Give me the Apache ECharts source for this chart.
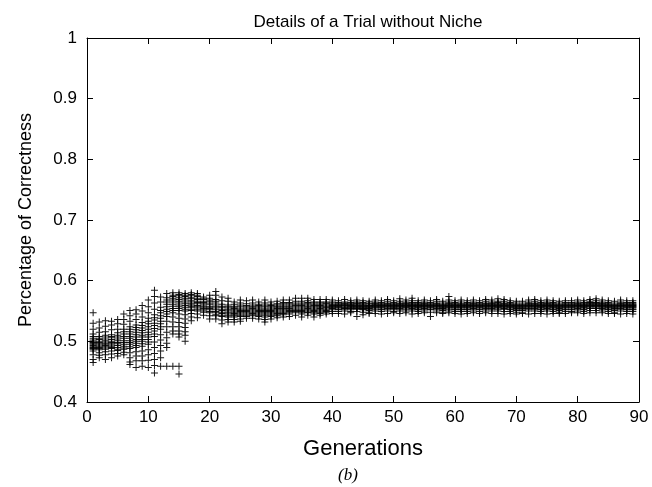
<!DOCTYPE html>
<html>
<head>
<meta charset="utf-8">
<script src="https://cdn.jsdelivr.net/npm/echarts@6/dist/echarts.min.js"></script>
<style>html,body{margin:0;padding:0;background:#fff}#c{width:652px;height:487px}</style>
</head>
<body>
<div id="c"></div>
<script>
const titleText = "Details of a Trial without Niche";
const xName = "Generations";
const yName = "Percentage of Correctness";
const caption = "(b)";
const xTicks = [0, 10, 20, 30, 40, 50, 60, 70, 80, 90];
const yTicks = [0.4, 0.5, 0.6, 0.7, 0.8, 0.9, 1];

// generation index for each row of correctness values
const generations = [];
for (let g = 1; g <= 89; g++) generations.push(g);

// correctness values of the population at each generation
const correctness = [
  [0.547, 0.53, 0.52, 0.512, 0.508, 0.505, 0.502, 0.5, 0.498, 0.497, 0.495, 0.493, 0.491, 0.49, 0.488, 0.487, 0.484, 0.478, 0.47, 0.465],
  [0.532, 0.522, 0.515, 0.508, 0.505, 0.503, 0.5, 0.498, 0.496, 0.494, 0.492, 0.49, 0.488, 0.486, 0.481, 0.477, 0.473],
  [0.534, 0.525, 0.516, 0.51, 0.507, 0.504, 0.501, 0.499, 0.497, 0.495, 0.493, 0.491, 0.489, 0.487, 0.483, 0.478, 0.47],
  [0.533, 0.527, 0.519, 0.511, 0.508, 0.506, 0.503, 0.5, 0.498, 0.496, 0.494, 0.492, 0.49, 0.488, 0.484, 0.479, 0.473],
  [0.536, 0.529, 0.52, 0.514, 0.51, 0.507, 0.504, 0.501, 0.498, 0.496, 0.493, 0.49, 0.487, 0.485, 0.48, 0.476],
  [0.545, 0.536, 0.528, 0.52, 0.516, 0.512, 0.508, 0.505, 0.501, 0.498, 0.495, 0.492, 0.489, 0.487, 0.482, 0.478],
  [0.551, 0.542, 0.533, 0.524, 0.52, 0.516, 0.512, 0.508, 0.505, 0.501, 0.498, 0.495, 0.491, 0.488, 0.481, 0.473, 0.466, 0.462],
  [0.552, 0.545, 0.536, 0.527, 0.523, 0.519, 0.515, 0.511, 0.507, 0.503, 0.5, 0.497, 0.493, 0.49, 0.483, 0.476, 0.468, 0.457],
  [0.559, 0.55, 0.54, 0.531, 0.526, 0.522, 0.518, 0.514, 0.51, 0.507, 0.503, 0.5, 0.496, 0.492, 0.484, 0.476, 0.468, 0.459],
  [0.568, 0.557, 0.547, 0.538, 0.533, 0.529, 0.524, 0.52, 0.515, 0.511, 0.507, 0.503, 0.499, 0.495, 0.486, 0.478, 0.469, 0.457],
  [0.584, 0.574, 0.563, 0.553, 0.544, 0.539, 0.535, 0.53, 0.526, 0.521, 0.517, 0.512, 0.508, 0.499, 0.49, 0.48, 0.47, 0.46, 0.448],
  [0.573, 0.565, 0.556, 0.551, 0.547, 0.542, 0.538, 0.533, 0.529, 0.524, 0.52, 0.511, 0.502, 0.493, 0.484, 0.473, 0.459],
  [0.579, 0.572, 0.568, 0.565, 0.561, 0.557, 0.553, 0.549, 0.545, 0.541, 0.533, 0.524, 0.515, 0.506, 0.497, 0.49, 0.459],
  [0.58, 0.576, 0.574, 0.571, 0.568, 0.565, 0.561, 0.558, 0.554, 0.551, 0.547, 0.54, 0.532, 0.524, 0.517, 0.512, 0.459],
  [0.58, 0.577, 0.575, 0.572, 0.569, 0.566, 0.563, 0.56, 0.557, 0.554, 0.551, 0.545, 0.538, 0.531, 0.524, 0.517, 0.512, 0.507, 0.459, 0.446],
  [0.579, 0.576, 0.574, 0.571, 0.568, 0.565, 0.562, 0.559, 0.556, 0.553, 0.55, 0.544, 0.537, 0.53, 0.523, 0.516, 0.51, 0.5],
  [0.58, 0.577, 0.575, 0.572, 0.57, 0.567, 0.565, 0.562, 0.56, 0.558, 0.556, 0.553, 0.551, 0.546, 0.54, 0.534],
  [0.579, 0.576, 0.574, 0.571, 0.569, 0.566, 0.564, 0.562, 0.559, 0.557, 0.555, 0.552, 0.55, 0.545, 0.539],
  [0.573, 0.571, 0.569, 0.566, 0.564, 0.562, 0.56, 0.558, 0.556, 0.554, 0.552, 0.55, 0.548, 0.543],
  [0.576, 0.571, 0.568, 0.566, 0.563, 0.561, 0.558, 0.556, 0.554, 0.552, 0.549, 0.547, 0.542, 0.537],
  [0.582, 0.576, 0.569, 0.566, 0.563, 0.56, 0.557, 0.555, 0.552, 0.549, 0.547, 0.544, 0.542, 0.537],
  [0.573, 0.567, 0.561, 0.558, 0.556, 0.553, 0.551, 0.548, 0.546, 0.543, 0.541, 0.535, 0.529],
  [0.571, 0.566, 0.56, 0.557, 0.555, 0.552, 0.55, 0.547, 0.545, 0.542, 0.54, 0.536, 0.532],
  [0.565, 0.561, 0.558, 0.556, 0.554, 0.552, 0.55, 0.548, 0.546, 0.544, 0.542, 0.54, 0.536, 0.532],
  [0.568, 0.563, 0.56, 0.558, 0.555, 0.553, 0.551, 0.549, 0.547, 0.545, 0.543, 0.541, 0.537, 0.533],
  [0.567, 0.562, 0.559, 0.557, 0.555, 0.553, 0.551, 0.549, 0.547, 0.545, 0.543, 0.541, 0.538],
  [0.568, 0.563, 0.56, 0.558, 0.556, 0.554, 0.552, 0.55, 0.548, 0.546, 0.544, 0.542, 0.538],
  [0.565, 0.561, 0.559, 0.557, 0.555, 0.553, 0.551, 0.549, 0.547, 0.545, 0.543, 0.541, 0.537],
  [0.568, 0.563, 0.56, 0.558, 0.555, 0.553, 0.551, 0.549, 0.547, 0.545, 0.543, 0.54, 0.536, 0.532],
  [0.565, 0.561, 0.559, 0.557, 0.555, 0.553, 0.551, 0.549, 0.547, 0.545, 0.543, 0.541, 0.537],
  [0.566, 0.562, 0.56, 0.558, 0.556, 0.554, 0.552, 0.55, 0.548, 0.546, 0.544, 0.542, 0.539],
  [0.568, 0.564, 0.562, 0.56, 0.558, 0.556, 0.554, 0.552, 0.55, 0.548, 0.546, 0.544, 0.54],
  [0.568, 0.564, 0.562, 0.56, 0.558, 0.556, 0.554, 0.553, 0.551, 0.549, 0.547, 0.545, 0.541],
  [0.571, 0.566, 0.563, 0.561, 0.559, 0.557, 0.555, 0.553, 0.551, 0.549, 0.547, 0.543],
  [0.571, 0.566, 0.563, 0.561, 0.559, 0.557, 0.555, 0.553, 0.551, 0.549, 0.547, 0.545, 0.54],
  [0.571, 0.567, 0.564, 0.562, 0.56, 0.558, 0.556, 0.554, 0.552, 0.55, 0.548, 0.547, 0.543],
  [0.569, 0.565, 0.563, 0.561, 0.559, 0.557, 0.555, 0.553, 0.551, 0.549, 0.547, 0.545, 0.54],
  [0.569, 0.565, 0.563, 0.561, 0.559, 0.558, 0.556, 0.554, 0.552, 0.55, 0.548, 0.546, 0.543],
  [0.569, 0.565, 0.563, 0.562, 0.56, 0.558, 0.556, 0.555, 0.553, 0.551, 0.549, 0.548, 0.545],
  [0.568, 0.565, 0.563, 0.561, 0.56, 0.559, 0.558, 0.557, 0.556, 0.555, 0.554, 0.552, 0.549, 0.546],
  [0.567, 0.564, 0.562, 0.561, 0.56, 0.559, 0.558, 0.557, 0.556, 0.555, 0.553, 0.552, 0.549, 0.546],
  [0.569, 0.565, 0.563, 0.562, 0.561, 0.56, 0.559, 0.557, 0.556, 0.555, 0.554, 0.553, 0.55, 0.545],
  [0.567, 0.564, 0.562, 0.561, 0.56, 0.559, 0.558, 0.557, 0.556, 0.555, 0.554, 0.552, 0.549, 0.547],
  [0.568, 0.565, 0.563, 0.562, 0.561, 0.559, 0.558, 0.557, 0.556, 0.555, 0.554, 0.553, 0.549, 0.541],
  [0.567, 0.564, 0.562, 0.561, 0.559, 0.558, 0.557, 0.556, 0.555, 0.554, 0.553, 0.552, 0.548, 0.544],
  [0.566, 0.563, 0.562, 0.56, 0.559, 0.558, 0.557, 0.556, 0.555, 0.554, 0.553, 0.551, 0.548, 0.546],
  [0.568, 0.565, 0.563, 0.562, 0.561, 0.56, 0.559, 0.558, 0.557, 0.556, 0.555, 0.553, 0.55, 0.546],
  [0.567, 0.564, 0.562, 0.561, 0.56, 0.559, 0.558, 0.557, 0.556, 0.555, 0.553, 0.552, 0.549, 0.545],
  [0.569, 0.566, 0.563, 0.562, 0.561, 0.56, 0.559, 0.558, 0.557, 0.556, 0.554, 0.553, 0.55, 0.546],
  [0.567, 0.564, 0.562, 0.561, 0.56, 0.559, 0.558, 0.557, 0.556, 0.555, 0.554, 0.552, 0.549, 0.547],
  [0.57, 0.566, 0.563, 0.562, 0.561, 0.56, 0.559, 0.558, 0.557, 0.556, 0.554, 0.553, 0.55, 0.546],
  [0.568, 0.565, 0.563, 0.562, 0.561, 0.56, 0.559, 0.558, 0.557, 0.556, 0.555, 0.553, 0.55, 0.547],
  [0.571, 0.567, 0.564, 0.562, 0.561, 0.56, 0.559, 0.558, 0.557, 0.556, 0.554, 0.553, 0.55, 0.545],
  [0.567, 0.564, 0.562, 0.561, 0.56, 0.559, 0.558, 0.557, 0.556, 0.555, 0.553, 0.552, 0.549, 0.546],
  [0.568, 0.565, 0.563, 0.562, 0.561, 0.56, 0.559, 0.558, 0.557, 0.556, 0.554, 0.553, 0.55, 0.547],
  [0.567, 0.564, 0.562, 0.561, 0.56, 0.559, 0.558, 0.557, 0.556, 0.555, 0.553, 0.552, 0.548, 0.541],
  [0.569, 0.566, 0.563, 0.562, 0.561, 0.56, 0.559, 0.558, 0.557, 0.556, 0.554, 0.553, 0.55, 0.547],
  [0.566, 0.563, 0.561, 0.56, 0.559, 0.558, 0.557, 0.556, 0.555, 0.554, 0.553, 0.551, 0.548, 0.546],
  [0.574, 0.568, 0.565, 0.563, 0.562, 0.561, 0.56, 0.559, 0.558, 0.557, 0.556, 0.555, 0.553, 0.55, 0.547],
  [0.567, 0.564, 0.562, 0.561, 0.56, 0.559, 0.558, 0.557, 0.556, 0.555, 0.553, 0.552, 0.549, 0.546],
  [0.568, 0.565, 0.562, 0.561, 0.56, 0.559, 0.558, 0.557, 0.556, 0.555, 0.553, 0.552, 0.549, 0.545],
  [0.567, 0.564, 0.562, 0.561, 0.56, 0.559, 0.558, 0.557, 0.556, 0.555, 0.553, 0.552, 0.549, 0.546],
  [0.568, 0.565, 0.563, 0.562, 0.561, 0.56, 0.559, 0.558, 0.557, 0.556, 0.554, 0.553, 0.55, 0.547],
  [0.567, 0.564, 0.562, 0.561, 0.56, 0.559, 0.558, 0.557, 0.556, 0.555, 0.553, 0.552, 0.549, 0.546],
  [0.569, 0.566, 0.563, 0.562, 0.561, 0.56, 0.559, 0.558, 0.557, 0.556, 0.554, 0.553, 0.55, 0.547],
  [0.568, 0.565, 0.563, 0.562, 0.561, 0.56, 0.559, 0.558, 0.557, 0.556, 0.554, 0.553, 0.55, 0.546],
  [0.57, 0.566, 0.564, 0.562, 0.561, 0.56, 0.559, 0.558, 0.557, 0.556, 0.555, 0.553, 0.55, 0.546],
  [0.569, 0.566, 0.563, 0.562, 0.561, 0.56, 0.559, 0.558, 0.557, 0.556, 0.554, 0.553, 0.549, 0.545],
  [0.567, 0.564, 0.562, 0.561, 0.56, 0.559, 0.558, 0.557, 0.556, 0.555, 0.553, 0.552, 0.549, 0.546],
  [0.566, 0.563, 0.561, 0.56, 0.559, 0.558, 0.557, 0.556, 0.555, 0.554, 0.552, 0.551, 0.548, 0.545],
  [0.566, 0.563, 0.561, 0.56, 0.559, 0.558, 0.557, 0.556, 0.555, 0.554, 0.552, 0.551, 0.548, 0.546],
  [0.568, 0.565, 0.563, 0.562, 0.561, 0.56, 0.559, 0.558, 0.557, 0.556, 0.554, 0.553, 0.55, 0.545],
  [0.569, 0.566, 0.563, 0.562, 0.561, 0.56, 0.559, 0.558, 0.557, 0.556, 0.554, 0.553, 0.55, 0.546],
  [0.567, 0.564, 0.562, 0.561, 0.56, 0.559, 0.558, 0.557, 0.556, 0.555, 0.553, 0.552, 0.549, 0.546],
  [0.568, 0.565, 0.563, 0.562, 0.561, 0.56, 0.559, 0.558, 0.557, 0.556, 0.554, 0.553, 0.55, 0.545],
  [0.567, 0.564, 0.562, 0.561, 0.56, 0.559, 0.558, 0.557, 0.556, 0.555, 0.553, 0.552, 0.549, 0.546],
  [0.566, 0.563, 0.561, 0.56, 0.559, 0.558, 0.557, 0.556, 0.555, 0.554, 0.552, 0.551, 0.548, 0.546],
  [0.567, 0.564, 0.562, 0.561, 0.56, 0.559, 0.558, 0.557, 0.556, 0.555, 0.553, 0.552, 0.549, 0.546],
  [0.567, 0.564, 0.562, 0.561, 0.56, 0.559, 0.558, 0.557, 0.556, 0.555, 0.553, 0.552, 0.549, 0.547],
  [0.568, 0.565, 0.563, 0.562, 0.561, 0.56, 0.559, 0.558, 0.557, 0.556, 0.554, 0.553, 0.55, 0.547],
  [0.567, 0.564, 0.562, 0.561, 0.56, 0.559, 0.558, 0.557, 0.556, 0.555, 0.553, 0.552, 0.549, 0.546],
  [0.569, 0.566, 0.564, 0.563, 0.562, 0.561, 0.56, 0.559, 0.558, 0.557, 0.555, 0.554, 0.551, 0.547],
  [0.57, 0.567, 0.564, 0.563, 0.562, 0.561, 0.56, 0.559, 0.558, 0.557, 0.555, 0.554, 0.551, 0.547],
  [0.568, 0.565, 0.563, 0.562, 0.561, 0.56, 0.559, 0.558, 0.557, 0.556, 0.554, 0.553, 0.55, 0.547],
  [0.567, 0.564, 0.562, 0.561, 0.56, 0.559, 0.558, 0.557, 0.556, 0.555, 0.553, 0.552, 0.549, 0.546],
  [0.566, 0.563, 0.561, 0.56, 0.559, 0.558, 0.557, 0.556, 0.555, 0.554, 0.552, 0.551, 0.548, 0.546],
  [0.568, 0.565, 0.563, 0.562, 0.561, 0.56, 0.559, 0.558, 0.557, 0.556, 0.554, 0.553, 0.55, 0.545],
  [0.567, 0.564, 0.562, 0.561, 0.56, 0.559, 0.558, 0.557, 0.556, 0.555, 0.553, 0.552, 0.549, 0.546],
  [0.567, 0.564, 0.562, 0.561, 0.56, 0.559, 0.558, 0.557, 0.556, 0.555, 0.553, 0.552, 0.549, 0.545]
];

const points = [];
generations.forEach((g, i) => {
  correctness[i].forEach(v => points.push([g, v]));
});

const FONT = '"Liberation Sans", Arial, sans-serif';
const plus = 'path://M3,0H4V3H7V4H4V7H3V4H0V3H3Z';

const chart = echarts.init(document.getElementById('c'), null, {renderer: 'canvas'});
const axisCommon = {
  type: 'value',
  axisLine: {show: true, onZero: false, lineStyle: {color: '#000', width: 1}},
  axisTick: {show: true, inside: true, length: 6, lineStyle: {color: '#000', width: 1}},
  splitLine: {show: false}
};
chart.setOption({
  animation: false,
  backgroundColor: '#fff',
  title: {
    text: titleText, left: 363, textAlign: 'center', top: 9,
    textStyle: {fontFamily: FONT, fontSize: 17, fontWeight: 'normal', color: '#000'}
  },
  grid: {left: 87, right: 13, top: 38, bottom: 85},
  xAxis: [
    Object.assign({}, axisCommon, {
      position: 'bottom', min: xTicks[0], max: xTicks[xTicks.length - 1], interval: 10,
      name: xName, nameLocation: 'middle', nameGap: 36,
      nameTextStyle: {fontFamily: FONT, fontSize: 22, color: '#000'},
      axisLabel: {fontFamily: FONT, fontSize: 17, color: '#000', margin: 7}
    }),
    Object.assign({}, axisCommon, {
      position: 'top', min: xTicks[0], max: xTicks[xTicks.length - 1], interval: 10,
      axisLabel: {show: false}
    })
  ],
  yAxis: [
    Object.assign({}, axisCommon, {
      position: 'left', min: yTicks[0], max: yTicks[yTicks.length - 1], interval: 0.1,
      name: yName, nameLocation: 'middle', nameGap: 52, nameRotate: 90,
      nameTextStyle: {fontFamily: FONT, fontSize: 18, color: '#000'},
      axisLabel: {fontFamily: FONT, fontSize: 17, color: '#000', margin: 10,
        formatter: v => String(Math.round(v * 10) / 10)}
    }),
    Object.assign({}, axisCommon, {
      position: 'right', min: yTicks[0], max: yTicks[yTicks.length - 1], interval: 0.1,
      axisLabel: {show: false}
    })
  ],
  graphic: [{
    type: 'text', left: 338, top: 467,
    style: {text: caption, font: 'italic 17px "Liberation Serif", "Times New Roman", serif', fill: '#000'}
  }],
  series: [{
    type: 'scatter',
    data: points,
    symbol: plus,
    symbolSize: 7,
    itemStyle: {color: '#000', opacity: 0.9},
    silent: true
  }]
});
</script>
</body>
</html>
